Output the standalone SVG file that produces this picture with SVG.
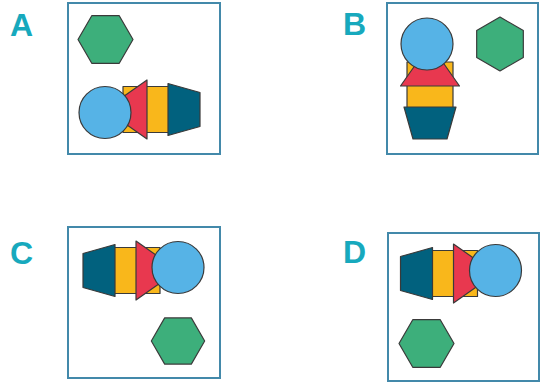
<svg xmlns="http://www.w3.org/2000/svg" xmlns:xlink="http://www.w3.org/1999/xlink" width="541" height="383" viewBox="0 0 541 383">
<style>
.frame{fill:#fff;stroke:#4389aa;stroke-width:2}
.lbl{font-family:"Liberation Sans",Arial,sans-serif;font-weight:bold;font-size:32px;fill:#17a9bd}
.sh{stroke:#3a3a3a;stroke-width:1.2;stroke-linejoin:round}
.hex{fill:#3daf7b}
.cir{fill:#56b3e6}
.tri{fill:#e8384f}
.sq{fill:#f9b71b}
.trap{fill:#01617e}
</style>
<defs>
<g id="combo">
<rect class="sh sq" x="18" y="-23" width="46" height="46"/>
<polygon class="sh trap" points="63,-26 95,-17 95,17 63,26"/>
<polygon class="sh tri" points="0,0 42,-29.5 42,29.5"/>
<circle class="sh cir" cx="0" cy="3" r="26"/>
</g>
<polygon id="hexF" class="sh hex" points="-27.5,0 -13.75,-23.8 13.75,-23.8 27.5,0 13.75,23.8 -13.75,23.8"/>
</defs>
<g id="panelA">
<text class="lbl" x="10" y="36">A</text>
<rect class="frame" x="68" y="3" width="152" height="151"/>
<use xlink:href="#hexF" transform="translate(105.5,39.5)"/>
<use xlink:href="#combo" transform="translate(105,109.5)"/>
</g>
<g id="panelB">
<text class="lbl" x="343" y="35">B</text>
<rect class="frame" x="387" y="3" width="151" height="151"/>
<use xlink:href="#hexF" transform="translate(500,44) rotate(90) scale(0.98)"/>
<use xlink:href="#combo" transform="translate(430,44) rotate(90)"/>
</g>
<g id="panelC">
<text class="lbl" x="10" y="264">C</text>
<rect class="frame" x="68" y="227" width="152" height="151"/>
<use xlink:href="#hexF" transform="translate(178,341) scale(0.97)"/>
<use xlink:href="#combo" transform="translate(178,270.5) rotate(180)"/>
</g>
<g id="panelD">
<text class="lbl" x="343" y="263">D</text>
<rect class="frame" x="388" y="233" width="151" height="148"/>
<use xlink:href="#hexF" transform="translate(426.5,343.5)"/>
<use xlink:href="#combo" transform="translate(495.5,273.5) rotate(180)"/>
</g>
</svg>
